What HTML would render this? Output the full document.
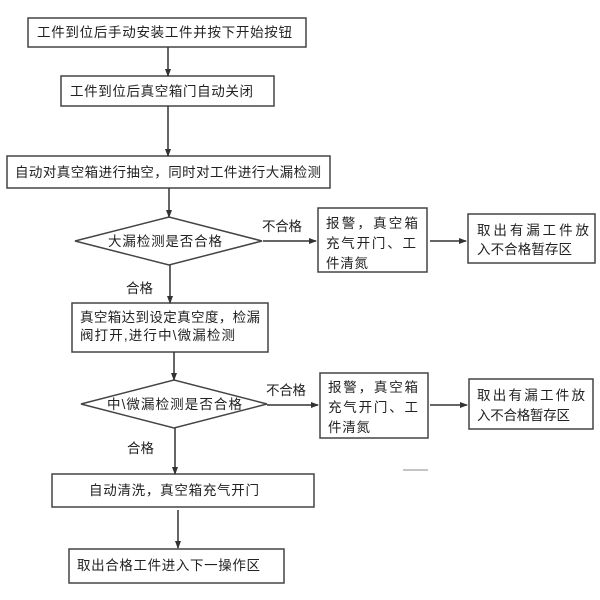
<!DOCTYPE html>
<html><head><meta charset="utf-8"><style>
html,body{margin:0;padding:0;background:#fff;}
svg{display:block;}
text{font-family:"Liberation Sans","Noto Sans CJK SC",sans-serif;font-size:13.5px;fill:#222;}
</style></head><body>
<svg width="600" height="600" viewBox="0 0 600 600" xmlns="http://www.w3.org/2000/svg">
<defs><marker id="a" markerWidth="8" markerHeight="8" refX="7" refY="4" orient="auto" markerUnits="userSpaceOnUse"><path d="M0,1 L8,4 L0,7 z" fill="#333"/></marker></defs>
<g fill="none" stroke="#444" stroke-width="1.5">
<rect x="28" y="18" width="278" height="29"/>
<rect x="61" y="76" width="213" height="30"/>
<rect x="7" y="156" width="323" height="32"/>
<polygon points="75,241 169,217 262,241 169,265"/>
<rect x="318" y="208" width="109" height="64"/>
<rect x="468" y="214" width="127" height="49"/>
<rect x="72" y="303" width="196" height="49"/>
<polygon points="81,404 174,380 267,404 174,428"/>
<rect x="320" y="373" width="108" height="65"/>
<rect x="469" y="379" width="124" height="50"/>
<rect x="52" y="474" width="262" height="33"/>
<rect x="69" y="549" width="215" height="34"/>
</g>
<g stroke="#333" stroke-width="1.5" marker-end="url(#a)">
<line x1="168" y1="47" x2="168" y2="76"/>
<line x1="168" y1="106" x2="168" y2="156"/>
<line x1="169" y1="188" x2="169" y2="217"/>
<line x1="170" y1="265" x2="170" y2="303"/>
<line x1="174" y1="352" x2="174" y2="380"/>
<line x1="175" y1="428" x2="175" y2="474"/>
<line x1="178" y1="510" x2="178" y2="548"/>
<line x1="263" y1="241" x2="316" y2="241"/>
<line x1="430" y1="241" x2="466" y2="241"/>
<line x1="267" y1="405" x2="318" y2="405"/>
<line x1="430" y1="405" x2="467" y2="405"/>
</g>
<line x1="403" y1="470" x2="428" y2="470" stroke="#888" stroke-width="1"/>
<text x="37" y="37" textLength="255">工件到位后手动安装工件并按下开始按钮</text>
<text x="70" y="96" textLength="183">工件到位后真空箱门自动关闭</text>
<text x="15" y="177" textLength="306">自动对真空箱进行抽空，同时对工件进行大漏检测</text>
<text x="108" y="246" textLength="114">大漏检测是否合格</text>
<text x="262" y="231" textLength="40">不合格</text>
<text x="326" y="228" textLength="92">报警，真空箱</text>
<text x="326" y="248" textLength="90">充气开门、工</text>
<text x="326" y="268" textLength="42">件清氮</text>
<text x="477" y="235" textLength="112">取出有漏工件放</text>
<text x="477" y="254" textLength="95">入不合格暂存区</text>
<text x="126" y="293" textLength="27">合格</text>
<text x="80" y="322" textLength="180">真空箱达到设定真空度，检漏</text>
<text x="80" y="340" textLength="155">阀打开,进行中\微漏检测</text>
<text x="107" y="409" textLength="135">中\微漏检测是否合格</text>
<text x="266" y="395" textLength="40">不合格</text>
<text x="328" y="392" textLength="90">报警，真空箱</text>
<text x="328" y="412" textLength="90">充气开门、工</text>
<text x="328" y="432" textLength="42">件清氮</text>
<text x="477" y="400" textLength="108">取出有漏工件放</text>
<text x="477" y="420" textLength="93">入不合格暂存区</text>
<text x="127" y="453" textLength="27">合格</text>
<text x="89" y="495" textLength="170">自动清洗，真空箱充气开门</text>
<text x="77" y="570" textLength="183">取出合格工件进入下一操作区</text>
</svg>
</body></html>
